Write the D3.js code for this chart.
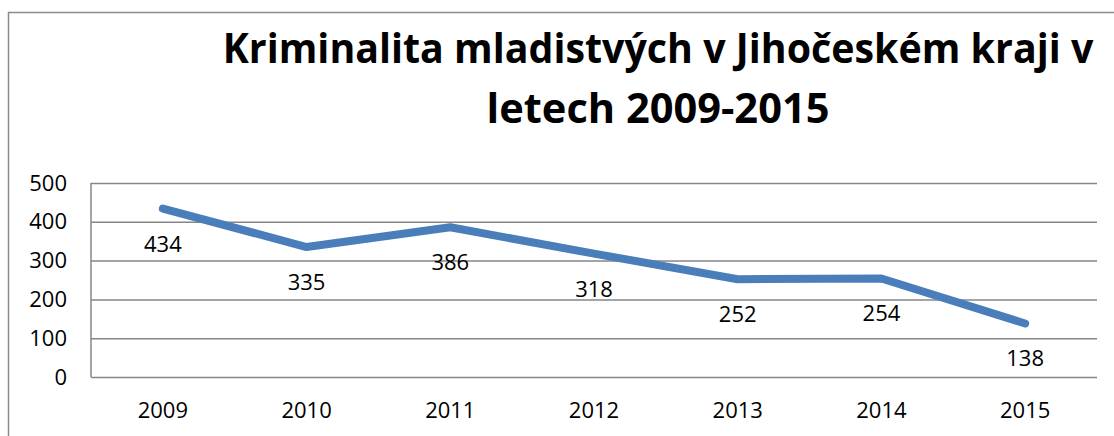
<!DOCTYPE html>
<html>
<head>
<meta charset="utf-8">
<script src="https://cdn.jsdelivr.net/npm/d3@7"></script>
<style>
  body { margin: 0; background: #fff; }
  text { font-family: "Open Sans", "DejaVu Sans", sans-serif; }
</style>
</head>
<body>
<div id="chart"></div>
<script>
// data
const years = ['2009', '2010', '2011', '2012', '2013', '2014', '2015'];
const offenders = [434, 335, 386, 318, 252, 254, 138];
const yTicks = [0, 100, 200, 300, 400, 500];
const titleLines = ['Kriminalita mladistvých v Jihočeském kraji v', 'letech 2009-2015'];

const width = 1114, height = 436;
const m = { left: 91, right: 17, top: 183, bottom: 59 };
const labelSize = 22;

const svg = d3.select('#chart').append('svg')
	.attr('width', width)
	.attr('height', height);

// outer chart border (runs off the right / bottom edge)
svg.append('rect')
	.attr('x', 8.5).attr('y', 12.5)
	.attr('width', 1130).attr('height', 450)
	.attr('fill', 'none')
	.attr('stroke', '#8c8c8c')
	.attr('stroke-width', 1.5);

// title, squeezed horizontally to the width of the original (narrower) font
const titleX = 658;
const titleWidths = [871, 343];
const titleBase = [63, 123];
titleLines.forEach(function(t, i){
	const g = svg.append('g')
		.attr('transform', 'translate(' + titleX + ',' + titleBase[i] + ')');
	const txt = g.append('text')
		.attr('x', 0).attr('y', 0)
		.attr('text-anchor', 'middle')
		.attr('font-weight', 700)
		.attr('font-size', 42)
		.text(t);
	const natural = txt.node().getComputedTextLength();
	g.attr('transform', 'translate(' + titleX + ',' + titleBase[i] + ') scale(' + (titleWidths[i] / natural) + ',1)');
});

const plotW = width - m.left - m.right;
const plotH = height - m.top - m.bottom;

const plot = svg.append('g')
	.attr('transform', 'translate(' + m.left + ',' + m.top + ')');

const x = d3.scaleBand().domain(years).range([0, plotW]);
const y = d3.scaleLinear().domain([0, 500]).range([plotH, 0]);

// gridlines
plot.append('g')
	.attr('class', 'grid')
	.call(d3.axisLeft(y).tickValues(yTicks).tickSize(-plotW).tickFormat(''))
	.call(g => g.select('.domain').remove())
	.selectAll('line')
		.attr('stroke', '#868686')
		.attr('stroke-width', 1.5);

// left border of plot area
plot.append('line')
	.attr('x1', 0).attr('x2', 0)
	.attr('y1', 0).attr('y2', plotH)
	.attr('stroke', '#868686')
	.attr('stroke-width', 1.5);

// y axis labels
plot.append('g')
	.attr('class', 'y axis')
	.call(d3.axisLeft(y).tickValues(yTicks).tickSize(0).tickPadding(24))
	.call(g => g.select('.domain').remove())
	.selectAll('text')
		.attr('font-size', labelSize)
		.attr('fill', '#000')
		.style('font-family', '"Open Sans", sans-serif');

// x axis labels
plot.append('g')
	.attr('class', 'x axis')
	.attr('transform', 'translate(0,' + plotH + ')')
	.call(d3.axisBottom(x).tickSize(0).tickPadding(25))
	.call(g => g.select('.domain').remove())
	.selectAll('text')
		.attr('font-size', labelSize)
		.attr('fill', '#000')
		.style('font-family', '"Open Sans", sans-serif');

// line
const cx = d => x(d) + x.bandwidth() / 2;
const valueLine = d3.line()
	.x((d, i) => cx(years[i]))
	.y(d => y(d));

plot.append('path')
	.datum(offenders)
	.attr('fill', 'none')
	.attr('stroke', '#4a7ebb')
	.attr('stroke-width', 8)
	.attr('stroke-linecap', 'round')
	.attr('stroke-linejoin', 'round')
	.attr('d', valueLine);

// data labels below points
plot.selectAll('.data-label')
	.data(offenders)
	.enter().append('text')
	.attr('class', 'data-label')
	.attr('x', (d, i) => cx(years[i]))
	.attr('y', d => y(d) + 43)
	.attr('text-anchor', 'middle')
	.attr('font-size', labelSize)
	.attr('fill', '#000')
	.text(d => d);
</script>
</body>
</html>
